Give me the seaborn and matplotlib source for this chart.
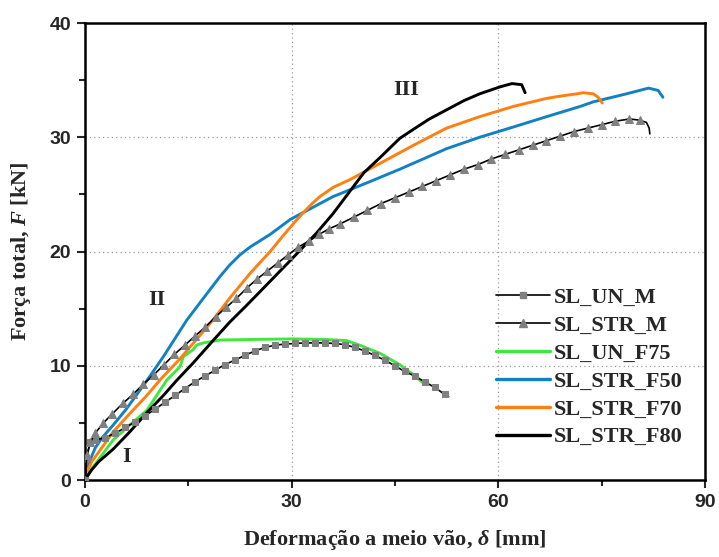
import matplotlib
matplotlib.use("Agg")
import matplotlib.pyplot as plt
from matplotlib.lines import Line2D
import seaborn as sns

# ---------------------------------------------------------------------------
# Data (deflection [mm], force [kN])
# ---------------------------------------------------------------------------

un_m_x = [0, 0.3, 0.7, 1.5, 2.9, 4.4, 5.9, 7.3, 8.7, 10.2, 11.6, 13.1, 14.5, 16.0, 17.4,
          18.9, 20.3, 21.8, 23.2, 24.7, 26.1, 27.6, 29.0, 30.5, 31.9, 33.4, 34.8, 36.3,
          37.7, 39.2, 40.6, 42.1, 43.5, 45.0, 46.4, 47.9, 49.3, 50.8, 52.2, 52.8]
un_m_y = [0, 1.8, 3.3, 3.5, 3.7, 4.1, 4.6, 5.1, 5.6, 6.2, 6.8, 7.4, 8.0, 8.6, 9.1,
          9.6, 10.1, 10.5, 10.9, 11.3, 11.6, 11.8, 11.9, 11.95, 12.0, 12.0, 12.0, 11.95,
          11.85, 11.6, 11.3, 10.9, 10.5, 10.0, 9.5, 9.1, 8.6, 8.1, 7.5, 7.3]

str_m_x = [0, 0.3, 0.8, 1.5, 2.7, 4.0, 5.5, 7.0, 8.5, 10.0, 11.5, 13.0, 14.5, 16.0, 17.5,
           19.0, 20.5, 22.0, 23.5, 25.0, 26.5, 28.0, 29.5, 31.0, 32.5, 34.0, 35.5, 37.0,
           39.0, 41.0, 43.0, 45.0, 47.0, 49.0, 51.0, 53.0, 55.0, 57.0, 59.0, 61.0, 63.0,
           65.0, 67.0, 69.0, 71.0, 73.0, 75.0, 77.0, 79.0, 80.5, 81.5, 81.9, 82.0]
str_m_y = [0, 2.2, 3.3, 4.1, 5.0, 5.8, 6.7, 7.5, 8.4, 9.2, 10.1, 11.0, 11.8, 12.6, 13.4,
           14.3, 15.1, 15.9, 16.8, 17.6, 18.3, 19.0, 19.7, 20.4, 20.9, 21.5, 22.0, 22.4,
           23.0, 23.6, 24.2, 24.7, 25.2, 25.7, 26.2, 26.7, 27.2, 27.6, 28.1, 28.5, 28.9,
           29.3, 29.7, 30.1, 30.5, 30.8, 31.1, 31.4, 31.6, 31.5, 31.3, 30.8, 30.3]

un_f75_x = [0, 1.0, 2.5, 4.1, 6.5, 9.0, 11.9, 13.8, 14.3, 15.7, 16.2, 17.2, 19.6, 24.0,
            30.0, 35.0, 38.0, 39.9, 42.8, 45.7, 47.7, 49.1]
un_f75_y = [0, 1.0, 2.2, 3.5, 4.8, 6.1, 8.75, 9.9, 10.8, 11.4, 11.8, 12.0, 12.25, 12.3,
            12.35, 12.3, 12.2, 11.8, 11.1, 10.1, 9.2, 8.5]

str_f50_x = [0, 0.4, 0.8, 1.5, 2.5, 4.1, 6.0, 9.0, 11.4, 14.8, 17.7, 19.6, 21.0, 22.5,
             24.0, 26.9, 29.8, 36.0, 40.9, 45.7, 52.5, 57.3, 62.2, 67.0, 71.9, 73.8,
             78.6, 81.8, 83.2, 83.9]
str_f50_y = [0, 1.0, 1.8, 2.8, 3.7, 4.8, 6.2, 8.7, 10.8, 14.0, 16.3, 17.8, 18.8, 19.7,
             20.4, 21.5, 22.8, 24.8, 26.0, 27.2, 29.0, 30.0, 30.9, 31.8, 32.7, 33.1,
             33.8, 34.3, 34.1, 33.5]

str_f70_x = [0, 0.2, 1.0, 2.2, 4.1, 6.5, 9.0, 10.9, 13.8, 16.2, 18.6, 21.0, 24.0, 26.9,
             28.8, 30.5, 31.7, 33.0, 34.1, 36.0, 38.5, 42.8, 47.7, 52.5, 57.3, 62.2,
             67.0, 69.0, 71.4, 72.3, 73.8, 74.5, 75.1]
str_f70_y = [0, 0.6, 1.6, 2.6, 4.2, 5.8, 7.4, 8.75, 10.6, 12.3, 14.0, 15.9, 18.1, 20.0,
             21.4, 22.6, 23.4, 24.2, 24.8, 25.6, 26.3, 27.7, 29.3, 30.8, 31.8, 32.7,
             33.4, 33.6, 33.8, 33.9, 33.8, 33.5, 33.0]

str_f80_x = [0, 1.0, 2.0, 4.1, 6.5, 9.0, 11.4, 13.3, 15.8, 18.6, 21.0, 23.5, 26.9, 29.8,
             33.6, 36.0, 38.5, 40.5, 42.8, 45.7, 47.7, 50.0, 52.5, 55.0, 57.3, 60.2,
             62.0, 63.4, 63.9]
str_f80_y = [0, 0.9, 1.6, 2.7, 4.2, 5.9, 7.4, 8.7, 10.3, 12.2, 13.8, 15.3, 17.4, 19.2,
             21.6, 23.3, 25.3, 26.9, 28.2, 29.9, 30.7, 31.6, 32.4, 33.2, 33.8, 34.4,
             34.7, 34.6, 33.9]

series_labels = ["SL_UN_M", "SL_STR_M", "SL_UN_F75", "SL_STR_F50", "SL_STR_F70", "SL_STR_F80"]
stage_labels = ["I", "II", "III"]
stage_x = [6.1, 10.4, 46.7]
stage_y = [2.0, 15.75, 34.1]

GREEN = "#3ee83e"
BLUE = "#1281c4"
ORANGE = "#ff8010"
BLACK = "#000000"
GRAY = "#808080"

# ---------------------------------------------------------------------------
# Style
# ---------------------------------------------------------------------------

sns.set_style("white")
plt.rcParams["font.family"] = ["Liberation Sans", "DejaVu Sans"]
plt.rcParams["mathtext.fontset"] = "custom"
plt.rcParams["mathtext.it"] = "Liberation Serif:italic:bold"
plt.rcParams["mathtext.rm"] = "Liberation Serif:bold"

fig = plt.figure(figsize=(7.19, 5.57), dpi=100)
ax = fig.add_axes([0.118, 0.1382, 0.8625, 0.8205])

# ---------------------------------------------------------------------------
# Curves
# ---------------------------------------------------------------------------

sns.lineplot(x=un_m_x, y=un_m_y, ax=ax, sort=False, estimator=None, color=BLACK, lw=1.2,
             marker="s", markersize=5, markerfacecolor=GRAY, markeredgecolor=GRAY,
             markevery=slice(0, -1), zorder=3)
sns.lineplot(x=str_m_x, y=str_m_y, ax=ax, sort=False, estimator=None, color=BLACK, lw=1.2,
             marker="^", markersize=6, markerfacecolor=GRAY, markeredgecolor=GRAY,
             markevery=slice(0, -3), zorder=3)
sns.lineplot(x=un_f75_x, y=un_f75_y, ax=ax, sort=False, estimator=None, color=GREEN, lw=2.1, zorder=2)
sns.lineplot(x=str_f50_x, y=str_f50_y, ax=ax, sort=False, estimator=None, color=BLUE, lw=2.1, zorder=2)
sns.lineplot(x=str_f70_x, y=str_f70_y, ax=ax, sort=False, estimator=None, color=ORANGE, lw=2.1, zorder=2)
sns.lineplot(x=str_f80_x, y=str_f80_y, ax=ax, sort=False, estimator=None, color=BLACK, lw=2.1, zorder=2)

for lab, sx, sy in zip(stage_labels, stage_x, stage_y):
    ax.text(sx, sy, lab, fontsize=16, fontweight="bold", family="Liberation Serif",
            ha="center", va="center")

# ---------------------------------------------------------------------------
# Axes
# ---------------------------------------------------------------------------

ax.set_xlim(0, 90)
ax.set_ylim(0, 40)
ax.set_xticks([0, 30, 60, 90])
ax.set_xticks([15, 45, 75], minor=True)
ax.set_yticks([0, 10, 20, 30, 40])
ax.set_yticks([5, 15, 25, 35], minor=True)
ax.tick_params(which="major", direction="out", length=6, width=1.5,
               labelsize=14, pad=4, bottom=True, left=True)
ax.tick_params(which="minor", direction="out", length=4, width=1.5, bottom=True, left=True)
for lbl in ax.get_xticklabels() + ax.get_yticklabels():
    lbl.set_fontweight("bold")

ax.grid(True, which="major", linestyle=(0, (1, 2.5)), color="#999999", linewidth=0.9)
for sp in ax.spines.values():
    sp.set_visible(True)
    sp.set_color("black")
    sp.set_linewidth(1.8)

ax.set_xlabel(r"Deformação a meio vão, $\delta$ [mm]", fontsize=16, fontweight="bold",
              family="Liberation Serif", labelpad=12)
ax.set_ylabel(r"Força total, $F$ [kN]", fontsize=16, fontweight="bold",
              family="Liberation Serif", labelpad=12)

handles = [
    Line2D([], [], color=BLACK, lw=1.2, marker="s", markersize=5,
           markerfacecolor=GRAY, markeredgecolor=GRAY),
    Line2D([], [], color=BLACK, lw=1.2, marker="^", markersize=6,
           markerfacecolor=GRAY, markeredgecolor=GRAY),
    Line2D([], [], color=GREEN, lw=2.4),
    Line2D([], [], color=BLUE, lw=2.4),
    Line2D([], [], color=ORANGE, lw=2.4),
    Line2D([], [], color=BLACK, lw=2.4),
]
ax.legend(handles, series_labels, loc="upper left", bbox_to_anchor=(0.649, 0.441),
          frameon=False, numpoints=1, handlelength=2.4, handletextpad=0.2,
          labelspacing=0.33, borderaxespad=0,
          prop={"family": "Liberation Serif", "weight": "bold", "size": 16})

fig.savefig("out.png", dpi=100)
